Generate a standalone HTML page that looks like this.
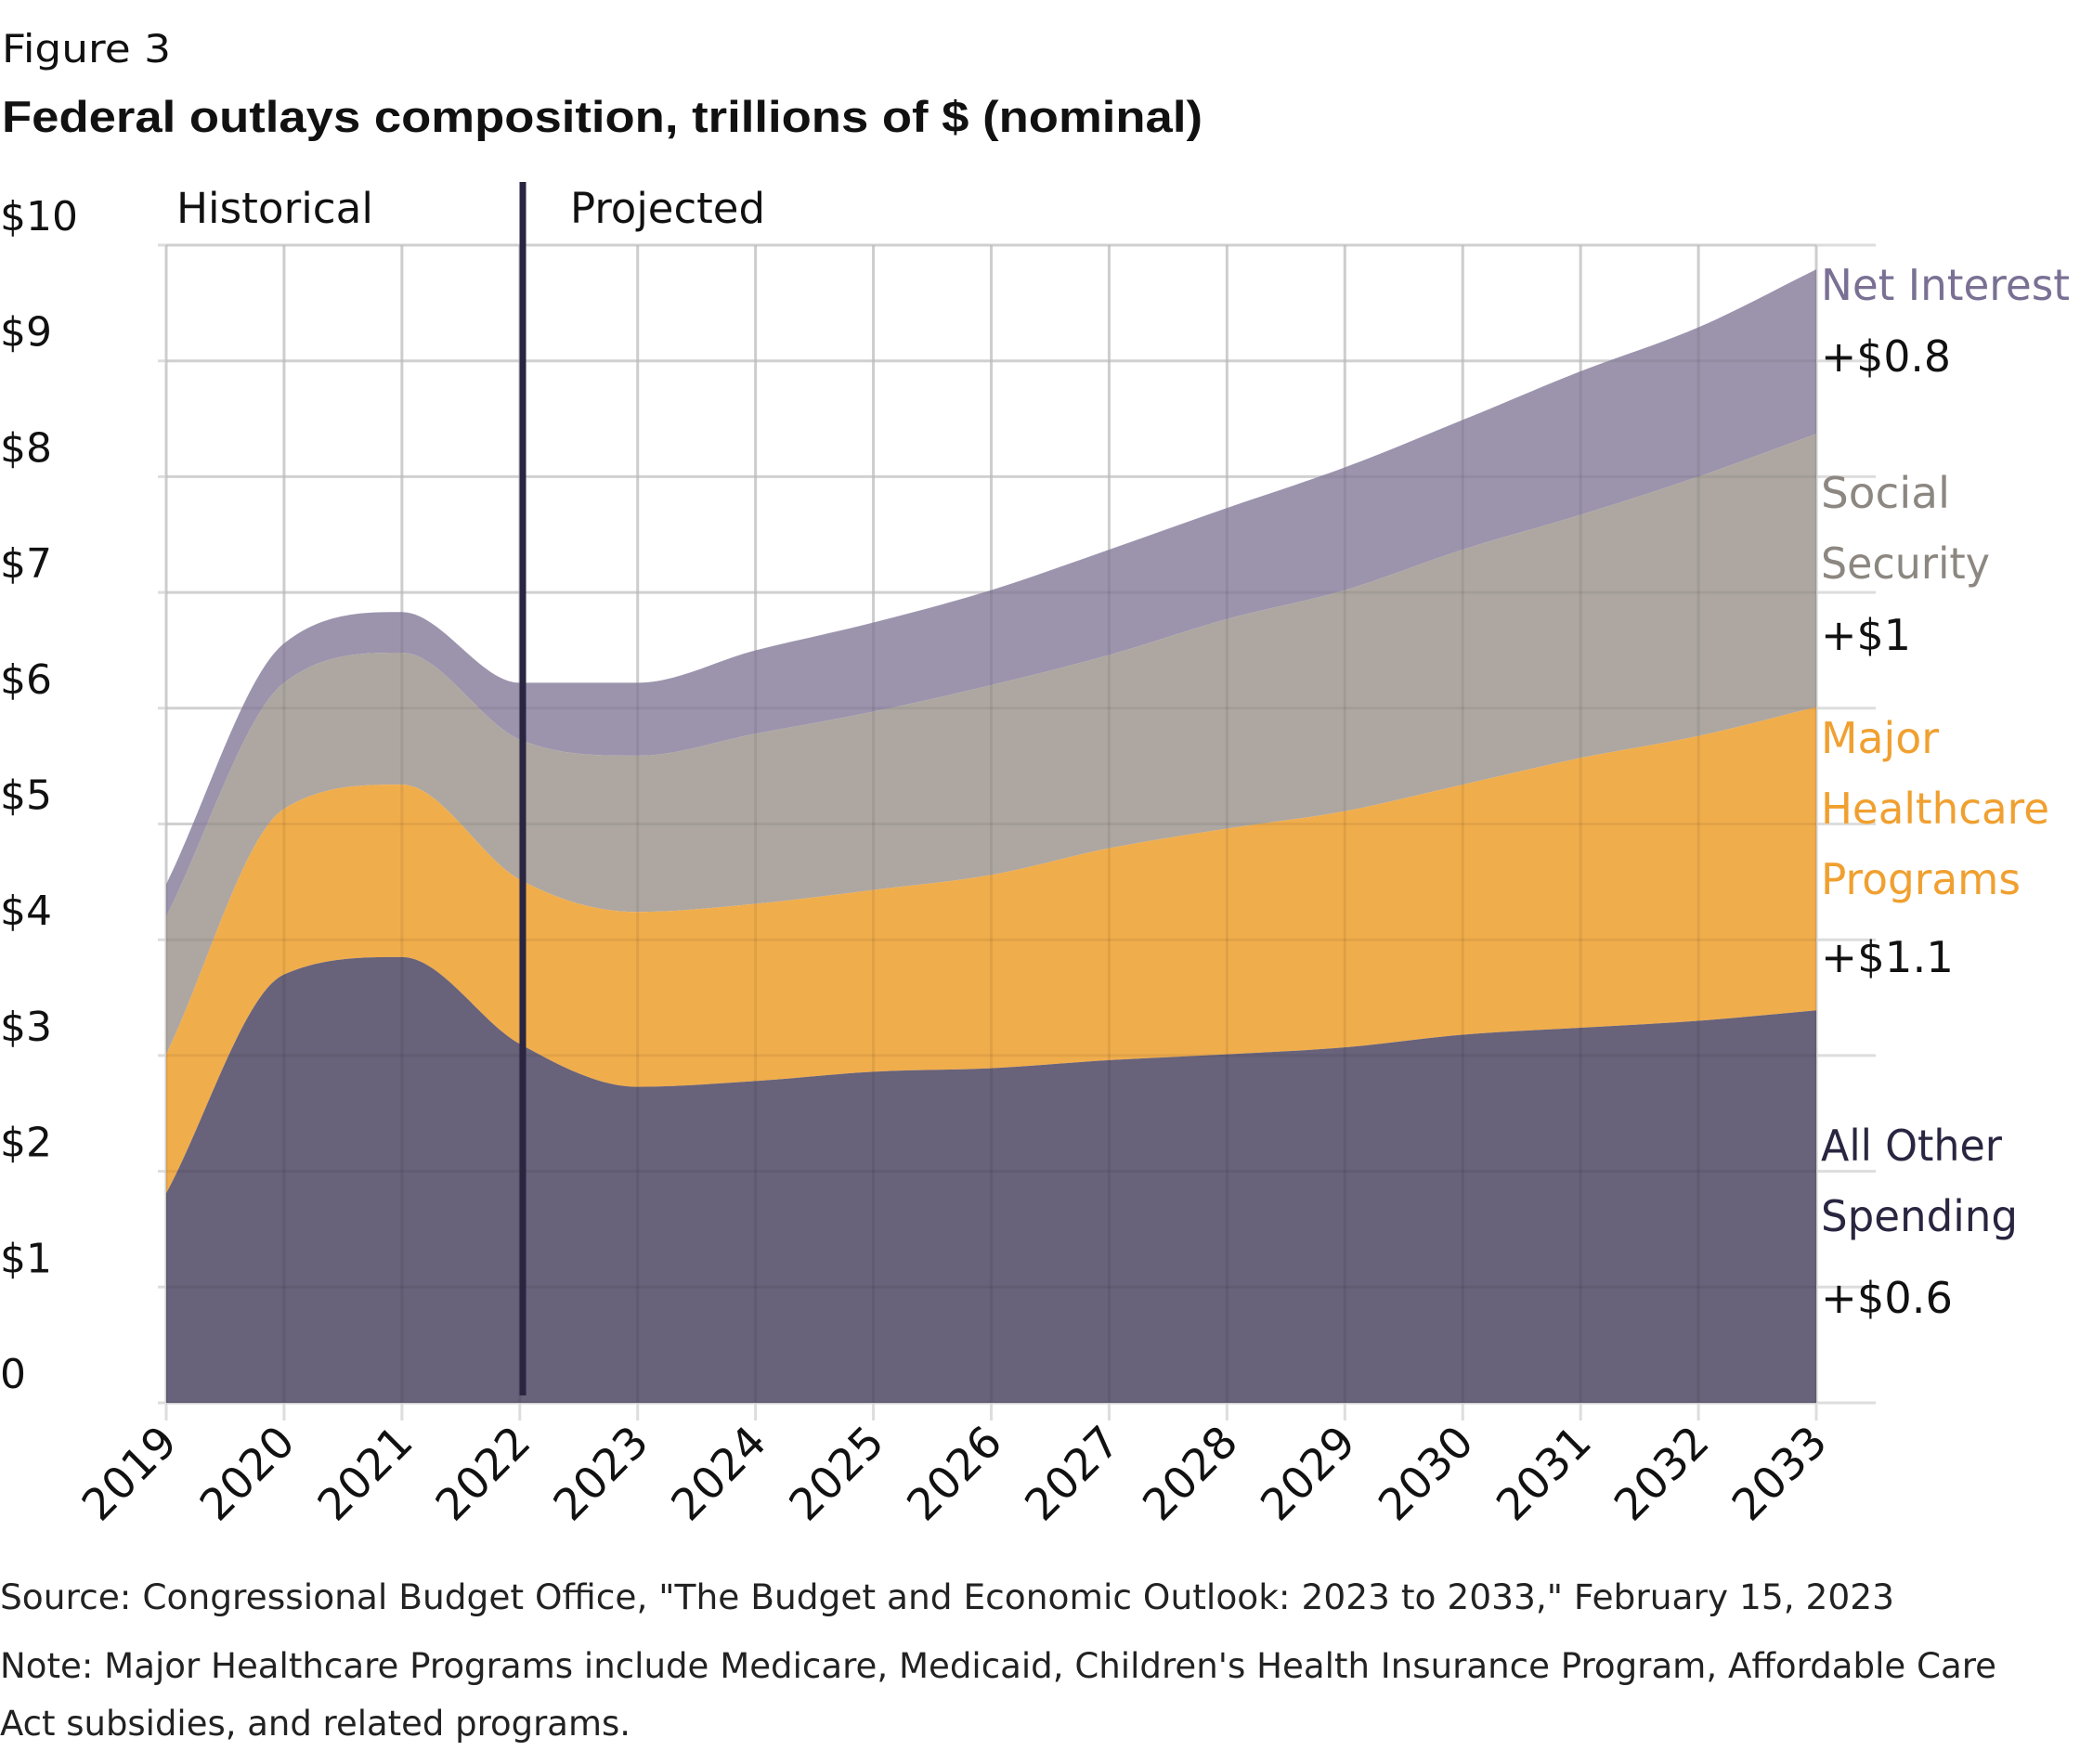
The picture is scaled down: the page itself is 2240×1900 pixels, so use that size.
<!DOCTYPE html>
<html><head><meta charset="utf-8"><style>
body{margin:0;background:#fff;}
svg{display:block;font-family:"DejaVu Sans","Liberation Sans",sans-serif;}
</style></head><body>
<svg id="chart" width="2240" height="1900" viewBox="0 0 2240 1900" xmlns="http://www.w3.org/2000/svg">
<text x="2" y="67" font-size="42" fill="#111" textLength="182" lengthAdjust="spacingAndGlyphs">Figure 3</text>
<text x="2" y="142" font-size="47" font-weight="bold" fill="#111" font-family="Liberation Sans, sans-serif" textLength="1293" lengthAdjust="spacingAndGlyphs">Federal outlays composition, trillions of $ (nominal)</text>
<g id="grid"></g>
<g id="areas"></g>
<g id="gridtop"></g>
<g id="axes"></g>
<line x1="563" y1="196" x2="563" y2="1503" stroke="#2a2540" stroke-width="7"/>
<text x="190" y="240" font-size="45" fill="#111" textLength="212" lengthAdjust="spacingAndGlyphs">Historical</text>
<text x="614" y="240" font-size="45" fill="#111" textLength="210" lengthAdjust="spacingAndGlyphs">Projected</text>
<g font-size="46">
<text x="1961" y="323" fill="#7a7094" textLength="268" lengthAdjust="spacingAndGlyphs">Net Interest</text>
<text x="1961" y="400" fill="#111" textLength="140" lengthAdjust="spacingAndGlyphs">+$0.8</text>
<text x="1961" y="547" fill="#8c8780" textLength="139" lengthAdjust="spacingAndGlyphs">Social</text>
<text x="1961" y="623" fill="#8c8780" textLength="182" lengthAdjust="spacingAndGlyphs">Security</text>
<text x="1961" y="700" fill="#111" textLength="97" lengthAdjust="spacingAndGlyphs">+$1</text>
<text x="1961" y="811" fill="#f0a030" textLength="127" lengthAdjust="spacingAndGlyphs">Major</text>
<text x="1961" y="887" fill="#f0a030" textLength="246" lengthAdjust="spacingAndGlyphs">Healthcare</text>
<text x="1961" y="963" fill="#f0a030" textLength="215" lengthAdjust="spacingAndGlyphs">Programs</text>
<text x="1961" y="1047" fill="#111" textLength="143" lengthAdjust="spacingAndGlyphs">+$1.1</text>
<text x="1961" y="1250" fill="#2a2540" textLength="195" lengthAdjust="spacingAndGlyphs">All Other</text>
<text x="1961" y="1326" fill="#2a2540" textLength="212" lengthAdjust="spacingAndGlyphs">Spending</text>
<text x="1961" y="1414" fill="#111" textLength="142" lengthAdjust="spacingAndGlyphs">+$0.6</text>
</g>
<text x="0" y="1733" font-size="37" fill="#222" textLength="2040" lengthAdjust="spacingAndGlyphs">Source: Congressional Budget Office, "The Budget and Economic Outlook: 2023 to 2033," February 15, 2023</text>
<text x="0" y="1807" font-size="37" fill="#222" textLength="2150" lengthAdjust="spacingAndGlyphs">Note: Major Healthcare Programs include Medicare, Medicaid, Children's Health Insurance Program, Affordable Care</text>
<text x="0" y="1869" font-size="37" fill="#222" textLength="679" lengthAdjust="spacingAndGlyphs">Act subsidies, and related programs.</text>
</svg>
<script>
const years=[2019,2020,2021,2022,2023,2024,2025,2026,2027,2028,2029,2030,2031,2032,2033];
const otherTop=[1.81,3.7,3.85,3.1,2.73,2.78,2.86,2.89,2.96,3.01,3.07,3.18,3.24,3.3,3.39];
const healthTop=[3.01,5.13,5.34,4.52,4.24,4.31,4.43,4.56,4.79,4.96,5.11,5.34,5.57,5.76,6.01];
const ssTop=[4.2,6.22,6.48,5.73,5.59,5.78,5.97,6.2,6.46,6.77,7.02,7.37,7.67,8.0,8.37];
const niTop=[4.48,6.56,6.83,6.22,6.22,6.5,6.74,7.02,7.37,7.73,8.08,8.49,8.91,9.29,9.79];
const yTicks=[0,1,2,3,4,5,6,7,8,9,10];
const yTickLabels=["0","$1","$2","$3","$4","$5","$6","$7","$8","$9","$10"];
const NS="http://www.w3.org/2000/svg";
const xS=y=>179+(y-2019)*126.93;
const yS=v=>1511-v*124.7;
function el(t,a,p){const e=document.createElementNS(NS,t);for(const k in a)e.setAttribute(k,a[k]);p.appendChild(e);return e;}
function mono(xs,ys){const n=xs.length,d=[],m=[];for(let i=0;i<n-1;i++)d.push((ys[i+1]-ys[i])/(xs[i+1]-xs[i]));
m[0]=d[0];m[n-1]=d[n-2];for(let i=1;i<n-1;i++){m[i]=d[i-1]*d[i]<=0?0:(d[i-1]+d[i])/2;}
for(let i=0;i<n-1;i++){if(d[i]===0){m[i]=0;m[i+1]=0;continue;}const a=m[i]/d[i],b=m[i+1]/d[i],s=a*a+b*b;if(s>9){const t=3/Math.sqrt(s);m[i]=t*a*d[i];m[i+1]=t*b*d[i];}}
let p="";for(let i=0;i<n-1;i++){const h=(xs[i+1]-xs[i])/3;p+=` C${xs[i]+h},${ys[i]+m[i]*h} ${xs[i+1]-h},${ys[i+1]-m[i+1]*h} ${xs[i+1]},${ys[i+1]}`;}return p;}
function path(vals){const xs=years.map(xS),ys=vals.map(yS);return `M${xs[0]},${ys[0]}`+mono(xs,ys);}
function pathRev(vals){const xs=years.map(xS).reverse(),ys=vals.map(yS).reverse();return ` L${xs[0]},${ys[0]}`+mono(xs,ys);}
const grid=document.getElementById('grid'),gt=document.getElementById('gridtop'),ax=document.getElementById('axes'),ar=document.getElementById('areas');
yTicks.forEach((v,i)=>{
 const l=el('line',{x1:170,x2:2020,y1:yS(v),y2:yS(v),stroke:'#ddd','stroke-width':3},grid);
 
 
 const t=el('text',{x:0,y:yS(v)-16,'font-size':44,fill:'#111'},ax);
 
 
 t.textContent=yTickLabels[i];
});
years.forEach(y=>{
 const l=el('line',{x1:xS(y),x2:xS(y),y1:264,y2:1530,stroke:'#ddd','stroke-width':3},grid);
 
 
 const l2=el('line',{x1:xS(y),x2:xS(y),y1:264,y2:1511,stroke:'#000','stroke-opacity':0.07,'stroke-width':3},gt);
 
 
 const t=el('text',{x:xS(y)+14,y:1556,'font-size':47,fill:'#111','text-anchor':'end',transform:`rotate(-45 ${xS(y)+14} 1556)`},ax);
 
 
 t.textContent=y;
});
yTicks.forEach(v=>{
 const l=el('line',{x1:179,x2:1956,y1:yS(v),y2:yS(v),stroke:'#000','stroke-opacity':0.06,'stroke-width':3},gt);
 
 
});
const zero=years.map(()=>0);
const layers=[[niTop,ssTop,'#9c94ad','area-net-interest'],[ssTop,healthTop,'#aea7a1','area-social-security'],[healthTop,otherTop,'#f0ad4c','area-healthcare'],[otherTop,zero,'#68627a','area-other-spending']];
layers.forEach(([top,bot,c,n])=>{
 const p=el('path',{d:path(top)+pathRev(bot)+'Z',fill:c},ar);
 
 
});
</script>
</body></html>
